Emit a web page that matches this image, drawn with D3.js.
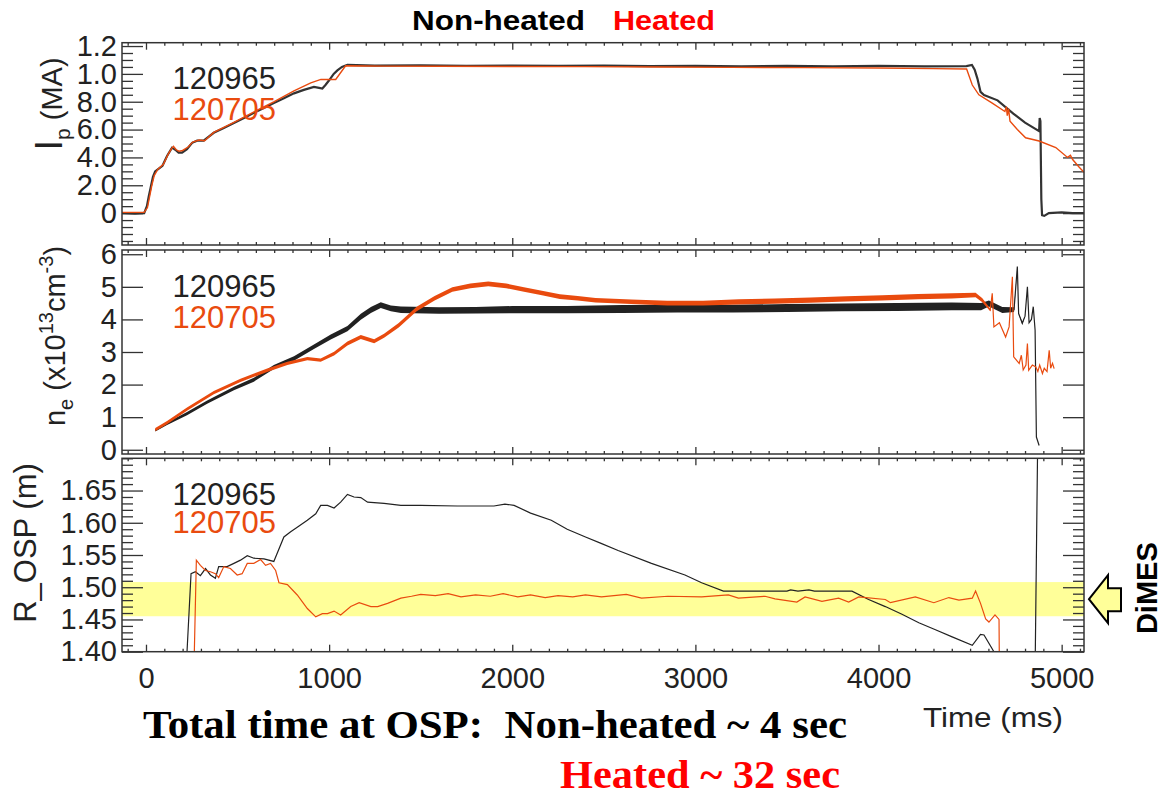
<!DOCTYPE html>
<html>
<head>
<meta charset="utf-8">
<script src="https://cdn.jsdelivr.net/npm/d3@7"></script>
<style>
body { margin: 0; background: #fff; }
</style>
</head>
<body>
<script>
// shot numbers
const shots = ["120965", "120705"];

// plasma current, [time ms, value]
const ipBlack = [[-131,0.0],[-60,-0.004],[-10,0.0],[5,0.05],[15,0.12],[25,0.18],[38,0.26],[50,0.3],[70,0.32],[90,0.34],[115,0.41],[142,0.47],[160,0.455],[178,0.435],[197,0.435],[224,0.46],[252,0.505],[279,0.52],[315,0.52],[370,0.577],[425,0.612],[480,0.647],[535,0.683],[589,0.72],[644,0.755],[698,0.79],[753,0.825],[808,0.86],[862,0.885],[917,0.907],[945,0.9],[963,0.895],[980,0.92],[1000,0.954],[1025,1.0],[1045,1.025],[1070,1.05],[1100,1.065],[1250,1.06],[1500,1.062],[1750,1.058],[2000,1.06],[2250,1.057],[2500,1.059],[2750,1.056],[3000,1.058],[3250,1.055],[3500,1.057],[3750,1.055],[4000,1.057],[4250,1.054],[4480,1.056],[4510,1.064],[4525,1.03],[4540,0.966],[4557,0.871],[4576,0.848],[4650,0.81],[4736,0.715],[4800,0.65],[4877,0.589],[4880,0.683],[4884,0.66],[4889,0.1],[4893,-0.015],[4905,-0.02],[4930,0.0],[5000,0.005],[5060,0.0],[5122,0.0]];
const ipRed = [[-131,0.005],[-10,0.005],[8,0.04],[20,0.12],[32,0.2],[45,0.27],[65,0.315],[95,0.35],[120,0.42],[140,0.465],[150,0.48],[165,0.455],[180,0.445],[200,0.45],[230,0.475],[255,0.51],[290,0.525],[320,0.52],[370,0.58],[480,0.652],[590,0.728],[700,0.8],[808,0.878],[900,0.935],[955,0.96],[1036,0.96],[1090,1.058],[1300,1.056],[1600,1.055],[2000,1.053],[2400,1.052],[2800,1.05],[3200,1.047],[3600,1.045],[4000,1.042],[4300,1.038],[4481,1.035],[4512,0.92],[4548,0.85],[4621,0.79],[4690,0.73],[4698,0.765],[4703,0.7],[4710,0.75],[4718,0.66],[4758,0.6],[4803,0.541],[4877,0.518],[4968,0.471],[5032,0.4],[5048,0.415],[5060,0.385],[5096,0.33],[5122,0.294]];
const ipTicks = [0, 0.2, 0.4, 0.6, 0.8, 1.0, 1.2];
const ipTickLabels = ["0", "2.0", "4.0", "6.0", "8.0", "1.0", "1.2"];

// line-averaged density, [time ms, value, noise half-width]
const neBlack = [[51,0.6,0.04],[115,0.8,0.04],[224,1.11,0.05],[334,1.46,0.05],[480,1.88,0.05],[589,2.15,0.06],[698,2.54,0.06],[808,2.8,0.07],[917,3.16,0.07],[1009,3.46,0.08],[1100,3.72,0.08],[1173,4.08,0.09],[1228,4.29,0.09],[1282,4.44,0.09],[1337,4.34,0.09],[1392,4.3,0.1],[1600,4.27,0.1],[1800,4.28,0.1],[2000,4.3,0.11],[2300,4.3,0.11],[2600,4.32,0.12],[2900,4.33,0.12],[3200,4.33,0.12],[3500,4.35,0.12],[3800,4.37,0.12],[4100,4.38,0.12],[4400,4.4,0.12],[4560,4.39,0.11],[4603,4.49,0.09],[4676,4.29,0.09],[4740,4.3,0.07],[4758,5.62,0],[4765,4.18,0],[4785,3.88,0.04],[4800,4.1,0],[4813,5.0,0],[4822,3.9,0],[4835,4.0,0],[4845,4.39,0],[4855,3.67,0],[4862,0.39,0],[4877,0.13,0]];
const neRed = [[51,0.62,0.05],[115,0.83,0.05],[224,1.25,0.05],[370,1.75,0.05],[516,2.13,0.05],[662,2.44,0.05],[772,2.65,0.05],[881,2.8,0.05],[954,2.75,0.05],[1027,2.95,0.06],[1100,3.26,0.06],[1173,3.46,0.06],[1246,3.33,0.06],[1300,3.5,0.06],[1380,3.82,0.07],[1478,4.32,0.07],[1576,4.65,0.07],[1673,4.92,0.07],[1771,5.03,0.07],[1869,5.09,0.07],[1967,5.03,0.07],[2064,4.92,0.07],[2162,4.81,0.07],[2260,4.7,0.07],[2357,4.65,0.07],[2455,4.59,0.07],[2651,4.54,0.07],[2846,4.5,0.07],[3042,4.5,0.07],[3237,4.54,0.08],[3433,4.56,0.08],[3628,4.59,0.08],[3824,4.63,0.08],[4019,4.66,0.08],[4215,4.7,0.08],[4400,4.72,0.08],[4530,4.75,0.07],[4567,4.59,0.06],[4610,4.29,0.04],[4621,4.8,0],[4630,3.77,0],[4660,3.9,0],[4694,3.46,0],[4713,3.77,0],[4731,5.31,0],[4738,2.85,0],[4768,2.65,0],[4780,2.9,0],[4790,2.45,0],[4805,2.6,0],[4813,3.26,0],[4820,2.44,0],[4840,2.6,0],[4859,2.54,0],[4870,2.4,0],[4880,2.6,0],[4895,2.34,0],[4905,2.5,0],[4920,2.4,0],[4932,3.05,0],[4940,2.5,0],[4950,2.65,0],[4959,2.49,0]];
const neTicks = [0, 1, 2, 3, 4, 5, 6];

// outer strike point radius, [time ms, value]
const rospBlack = [[215,1.3],[224,1.4],[246,1.521],[270,1.524],[297,1.518],[325,1.529],[352,1.519],[379,1.514],[397,1.532],[443,1.532],[480,1.537],[516,1.542],[553,1.549],[589,1.545],[644,1.544],[698,1.54],[753,1.578],[790,1.586],[826,1.593],[881,1.604],[927,1.614],[954,1.627],[991,1.627],[1027,1.623],[1063,1.632],[1100,1.644],[1136,1.64],[1173,1.639],[1210,1.632],[1300,1.63],[1392,1.627],[1500,1.627],[1700,1.626],[1900,1.626],[1960,1.629],[2010,1.627],[2100,1.615],[2213,1.604],[2300,1.59],[2400,1.578],[2485,1.568],[2578,1.557],[2760,1.537],[2943,1.519],[3034,1.507],[3153,1.494],[3500,1.494],[3520,1.496],[3560,1.494],[3620,1.496],[3650,1.494],[3855,1.494],[3946,1.481],[4037,1.47],[4128,1.458],[4220,1.445],[4311,1.434],[4402,1.423],[4512,1.41],[4557,1.427],[4576,1.426],[4630,1.4],[4660,1.37],[4855,1.37],[4870,1.75]];
const rospRed = [[255,1.3],[264,1.4],[275,1.542],[297,1.534],[325,1.526],[352,1.524],[379,1.521],[397,1.515],[425,1.532],[461,1.529],[498,1.519],[525,1.521],[553,1.537],[589,1.537],[626,1.543],[653,1.534],[680,1.537],[708,1.526],[726,1.507],[772,1.504],[826,1.488],[881,1.467],[927,1.454],[963,1.459],[991,1.459],[1027,1.463],[1063,1.457],[1118,1.47],[1164,1.476],[1228,1.47],[1265,1.47],[1319,1.475],[1392,1.483],[1450,1.486],[1500,1.489],[1580,1.487],[1650,1.49],[1720,1.485],[1800,1.488],[1880,1.486],[1950,1.49],[2030,1.485],[2100,1.488],[2180,1.484],[2250,1.487],[2330,1.485],[2400,1.488],[2487,1.485],[2623,1.489],[2706,1.483],[2850,1.486],[3034,1.485],[3180,1.488],[3235,1.483],[3380,1.486],[3435,1.482],[3554,1.477],[3599,1.485],[3691,1.478],[3782,1.483],[3837,1.477],[3892,1.485],[4037,1.481],[4065,1.476],[4201,1.485],[4302,1.476],[4384,1.484],[4439,1.48],[4512,1.483],[4530,1.494],[4557,1.475],[4585,1.451],[4603,1.446],[4636,1.457],[4658,1.45],[4662,1.3]];
const rospTicks = [1.40, 1.45, 1.50, 1.55, 1.60, 1.65];
const dimesBand = [1.455, 1.508];

const timeTicks = [0, 1000, 2000, 3000, 4000, 5000];

const black = "#222";
const orange = "#e94b0f";
const sans = "Liberation Sans, Arial, sans-serif";
const serif = "Liberation Serif, Times New Roman, serif";

const svg = d3.select("body").append("svg")
    .attr("width", 1162)
    .attr("height", 796)
    .style("font-family", sans);

const x = d3.scaleLinear().domain([-131, 5122]).range([122, 1084]);

const panels = [
    {id: "ip", y: d3.scaleLinear().domain([-0.229, 1.224]).range([245, 42.7]), ticks: ipTicks, minor: d3.range(-0.2, 1.25, 0.05), fmt: (d, i) => ipTickLabels[i], legend: [89, 120]},
    {id: "ne", y: d3.scaleLinear().domain([-0.13, 6.13]).range([454, 250]), ticks: neTicks, minor: [], fmt: d => d, legend: [297, 328]},
    {id: "rosp", y: d3.scaleLinear().domain([1.40, 1.70]).range([651.7, 458.3]), ticks: rospTicks, minor: d3.range(1.40, 1.705, 0.01), fmt: d3.format(".2f"), legend: [505, 533]}
];

function styleAxis(g) {
    g.select(".domain").remove();
    g.selectAll("line").attr("stroke", "#333").attr("stroke-width", 1.3);
    g.selectAll("text").attr("fill", "#222").attr("font-size", 29)
        .attr("font-family", null).style("font-family", sans);
}

panels.forEach((p, k) => {
    const y = p.y;
    const top = y.range()[1], bottom = y.range()[0];
    const g = svg.append("g");

    svg.append("clipPath").attr("id", "clip-" + p.id)
        .append("rect")
        .attr("x", x.range()[0]).attr("y", top)
        .attr("width", x.range()[1] - x.range()[0]).attr("height", bottom - top);

    if (p.id == "rosp") {
        g.append("rect")
            .attr("x", x.range()[0])
            .attr("y", y(dimesBand[1]))
            .attr("width", x.range()[1] - x.range()[0])
            .attr("height", y(dimesBand[0]) - y(dimesBand[1]))
            .attr("fill", "#ffff99");
    }

    // x ticks on top and bottom of every panel
    const minorT = d3.range(-100, 5101, 100).filter(d => d % 1000 != 0);
    g.append("g").attr("transform", `translate(0,${bottom})`)
        .call(d3.axisBottom(x).tickValues(minorT).tickSize(-3).tickFormat(""))
        .call(styleAxis);
    g.append("g").attr("transform", `translate(0,${top})`)
        .call(d3.axisTop(x).tickValues(minorT).tickSize(-3).tickFormat(""))
        .call(styleAxis);
    g.append("g").attr("transform", `translate(0,${bottom})`)
        .call(d3.axisBottom(x).tickValues(timeTicks).tickSize(-7).tickPadding(16)
            .tickFormat(p.id == "rosp" ? d3.format("d") : ""))
        .call(styleAxis);
    g.append("g").attr("transform", `translate(0,${top})`)
        .call(d3.axisTop(x).tickValues(timeTicks).tickSize(-7).tickFormat(""))
        .call(styleAxis);

    // y ticks left and right
    const minorY = p.minor.filter(v => !p.ticks.some(t => Math.abs(t - v) < 1e-6));
    g.append("g").attr("transform", `translate(${x.range()[0]},0)`)
        .call(d3.axisLeft(y).tickValues(minorY).tickSize(-11).tickFormat(""))
        .call(styleAxis);
    g.append("g").attr("transform", `translate(${x.range()[1]},0)`)
        .call(d3.axisRight(y).tickValues(minorY).tickSize(-11).tickFormat(""))
        .call(styleAxis);
    g.append("g").attr("transform", `translate(${x.range()[0]},0)`)
        .call(d3.axisLeft(y).tickValues(p.ticks).tickSize(-21).tickPadding(5).tickFormat(p.fmt))
        .call(styleAxis);
    g.append("g").attr("transform", `translate(${x.range()[1]},0)`)
        .call(d3.axisRight(y).tickValues(p.ticks).tickSize(-21).tickFormat(""))
        .call(styleAxis);

    // data
    const plot = g.append("g").attr("clip-path", `url(#clip-${p.id})`);
    const line = d3.line().x(d => x(d[0])).y(d => y(d[1]));
    if (p.id == "ip") {
        plot.append("path").datum(ipBlack).attr("d", line)
            .attr("fill", "none").attr("stroke", "#333").attr("stroke-width", 2.2);
        plot.append("path").datum(ipRed).attr("d", line)
            .attr("fill", "none").attr("stroke", orange).attr("stroke-width", 1.4);
    } else if (p.id == "ne") {
        const band = d3.area().x(d => x(d[0])).y0(d => y(d[1] - d[2])).y1(d => y(d[1] + d[2]));
        [[neBlack, black], [neRed, orange]].forEach(([s, c]) => {
            plot.append("path").datum(s).attr("d", band).attr("fill", c);
            plot.append("path").datum(s).attr("d", line)
                .attr("fill", "none").attr("stroke", c).attr("stroke-width", 1.2);
        });
    } else {
        plot.append("path").datum(rospBlack).attr("d", line)
            .attr("fill", "none").attr("stroke", black).attr("stroke-width", 1.2);
        plot.append("path").datum(rospRed).attr("d", line)
            .attr("fill", "none").attr("stroke", orange).attr("stroke-width", 1.2);
    }

    // frame
    g.append("rect")
        .attr("x", x.range()[0]).attr("y", top)
        .attr("width", x.range()[1] - x.range()[0]).attr("height", bottom - top)
        .attr("fill", "none").attr("stroke", "#333").attr("stroke-width", 1.5);

    // shot legend
    shots.forEach((s, i) => {
        g.append("text")
            .attr("x", 172.5).attr("y", p.legend[i])
            .attr("font-size", 31)
            .attr("fill", i == 0 ? black : orange)
            .text(s);
    });
});

// y axis titles
const t1 = svg.append("text").attr("transform", "translate(62,104) rotate(-90)")
    .attr("text-anchor", "middle").attr("font-size", 29).attr("fill", "#222");
t1.append("tspan").attr("font-size", 38).text("I");
t1.append("tspan").attr("font-size", 21).attr("dy", 8).text("p");
t1.append("tspan").attr("dy", -8).text(" (MA)");

const t2 = svg.append("text").attr("transform", "translate(65,336) rotate(-90)")
    .attr("text-anchor", "middle").attr("font-size", 29).attr("fill", "#222");
t2.append("tspan").text("n");
t2.append("tspan").attr("font-size", 20).attr("dy", 8).text("e");
t2.append("tspan").attr("dy", -8).text(" (x10");
t2.append("tspan").attr("font-size", 20).attr("dy", -12).text("13");
t2.append("tspan").attr("dy", 12).text("cm");
t2.append("tspan").attr("font-size", 20).attr("dy", -12).text("-3");
t2.append("tspan").attr("dy", 12).text(")");

svg.append("text").attr("transform", "translate(36,543) rotate(-90)")
    .attr("text-anchor", "middle").attr("font-size", 31).attr("fill", "#222")
    .text("R_OSP (m)");

// title
svg.append("text").attr("x", 412).attr("y", 30)
    .attr("font-size", 28).attr("font-weight", "bold").attr("fill", "#000")
    .attr("textLength", 173).attr("lengthAdjust", "spacingAndGlyphs")
    .text("Non-heated");
svg.append("text").attr("x", 613).attr("y", 30)
    .attr("font-size", 28).attr("font-weight", "bold").attr("fill", "#ff0000")
    .attr("textLength", 102).attr("lengthAdjust", "spacingAndGlyphs")
    .text("Heated");

// x axis title
svg.append("text").attr("x", 923).attr("y", 727)
    .attr("font-size", 28).attr("fill", "#222")
    .attr("textLength", 140).attr("lengthAdjust", "spacingAndGlyphs")
    .text("Time (ms)");

// DiMES marker
const yr = panels[2].y;
const bandMid = yr((dimesBand[0] + dimesBand[1]) / 2);
const ax = x.range()[1] + 5;
const arrow = [[ax, bandMid], [ax + 19, bandMid - 24], [ax + 19, bandMid - 11], [ax + 32, bandMid - 11],
    [ax + 32, bandMid + 12], [ax + 19, bandMid + 12], [ax + 19, bandMid + 24]];
svg.append("path")
    .attr("d", d3.line()(arrow) + "Z")
    .attr("fill", "#ffff99").attr("stroke", "#000").attr("stroke-width", 2)
    .attr("stroke-linejoin", "miter");
svg.append("text").attr("transform", `translate(1157,${bandMid - 11}) rotate(-90)`)
    .attr("text-anchor", "middle").attr("font-size", 29).attr("font-weight", "bold")
    .attr("fill", "#000").text("DiMES");

// summary text
svg.append("text").attr("x", 143).attr("y", 738)
    .style("font-family", serif)
    .attr("font-size", 41).attr("font-weight", "bold").attr("fill", "#000")
    .style("white-space", "pre")
    .attr("textLength", 704).attr("lengthAdjust", "spacingAndGlyphs")
    .text("Total time at OSP:  Non-heated ~ 4 sec");
svg.append("text").attr("x", 560).attr("y", 788)
    .style("font-family", serif)
    .attr("font-size", 41).attr("font-weight", "bold").attr("fill", "#ff0000")
    .attr("textLength", 280).attr("lengthAdjust", "spacingAndGlyphs")
    .text("Heated ~ 32 sec");
</script>
</body>
</html>
